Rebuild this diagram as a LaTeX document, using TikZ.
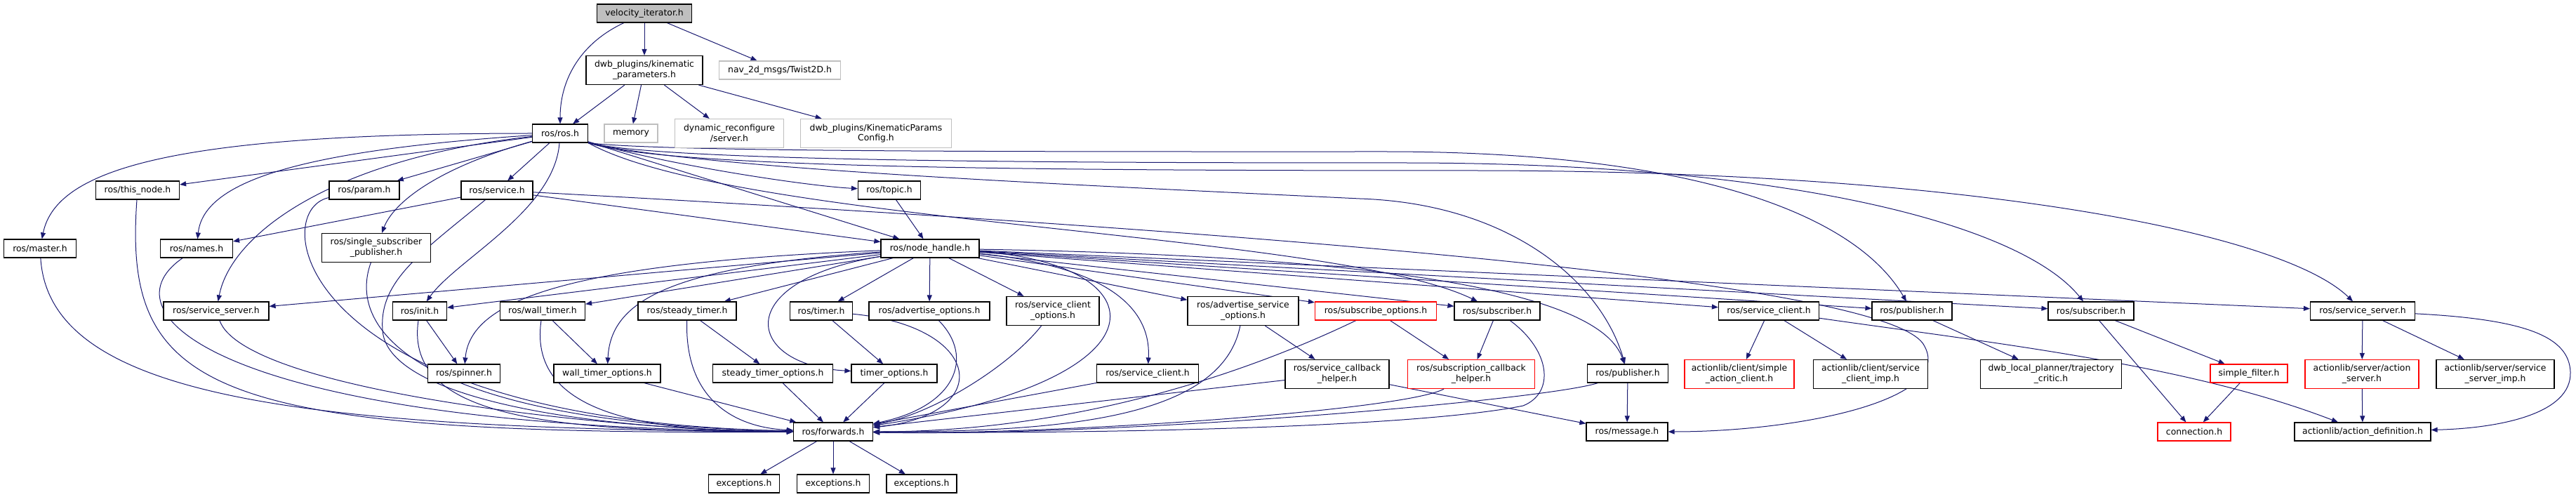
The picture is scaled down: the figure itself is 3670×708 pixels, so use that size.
\documentclass[tikz,border=0pt]{standalone}
\usepackage{fontspec}
\setmainfont{DejaVu Sans}
\usetikzlibrary{arrows.meta,backgrounds}
\definecolor{edgeblue}{HTML}{191970}
\definecolor{extgray}{HTML}{BFBFBF}
\begin{document}
\begin{tikzpicture}[x=1pt,y=1pt,
  hdr/.style={draw=black,line width=1.2pt,fill=white,inner sep=0pt,minimum height=26,align=center,font=\fontsize{12.4}{14.8}\selectfont},
  dbl/.style={minimum height=41},
  ext/.style={hdr,draw=extgray},
  cut/.style={hdr,draw=red},
  rootbox/.style={hdr,fill=extgray},
  inc/.style={draw=edgeblue,line width=1pt,-{Triangle[length=9pt,width=7pt]}}]
\useasboundingbox (0,0) rectangle (3670,-708);
\node[rootbox,minimum width=135] (vi) at (918,-19) {velocity\_iterator.h};
\node[hdr,dbl,minimum width=166] (kp) at (918,-100) {dwb\_plugins/kinematic\\\_parameters.h};
\node[ext,minimum width=173] (tw) at (1111,-100) {nav\_2d\_msgs/Twist2D.h};
\node[hdr,minimum width=79] (ros) at (798,-190) {ros/ros.h};
\node[ext,minimum width=76] (mem) at (899,-190) {memory};
\node[ext,dbl,minimum width=155] (dyn) at (1039,-190) {dynamic\_reconfigure\\/server.h};
\node[ext,dbl,minimum width=215] (kpc) at (1248,-190) {dwb\_plugins/KinematicParams\\Config.h};
\node[hdr,minimum width=119] (thisnode) at (196,-271) {ros/this\_node.h};
\node[hdr,minimum width=100] (param) at (519,-271) {ros/param.h};
\node[hdr,minimum width=102] (service) at (708,-271) {ros/service.h};
\node[hdr,minimum width=89] (topic) at (1267,-271) {ros/topic.h};
\node[hdr,minimum width=103] (master) at (57,-354) {ros/master.h};
\node[hdr,minimum width=103] (names) at (280,-354) {ros/names.h};
\node[hdr,dbl,minimum width=155] (ssp) at (536,-353) {ros/single\_subscriber\\\_publisher.h};
\node[hdr,minimum width=140] (nh) at (1325,-354) {ros/node\_handle.h};
\node[hdr,minimum width=150] (srvsrvL) at (308,-443) {ros/service\_server.h};
\node[hdr,minimum width=77] (init) at (598,-443) {ros/init.h};
\node[hdr,minimum width=121] (walltimer) at (773,-443) {ros/wall\_timer.h};
\node[hdr,minimum width=140] (steadytimer) at (979,-443) {ros/steady\_timer.h};
\node[hdr,minimum width=89] (timer) at (1170,-443) {ros/timer.h};
\node[hdr,minimum width=172] (advopt) at (1324,-443) {ros/advertise\_options.h};
\node[hdr,dbl,minimum width=132] (sco) at (1500,-443) {ros/service\_client\\\_options.h};
\node[hdr,dbl,minimum width=158] (aso) at (1771,-443) {ros/advertise\_service\\\_options.h};
\node[cut,minimum width=173] (subopt) at (1960,-443) {ros/subscribe\_options.h};
\node[hdr,minimum width=122] (subL) at (2133,-443) {ros/subscriber.h};
\node[hdr,minimum width=143] (scR) at (2520,-443) {ros/service\_client.h};
\node[hdr,minimum width=114] (pubR) at (2724,-443) {ros/publisher.h};
\node[hdr,minimum width=122] (subR) at (2979,-443) {ros/subscriber.h};
\node[hdr,minimum width=149] (ssR) at (3366,-443) {ros/service\_server.h};
\node[hdr,minimum width=103] (spinner) at (661,-532) {ros/spinner.h};
\node[hdr,minimum width=152] (wto) at (865,-532) {wall\_timer\_options.h};
\node[hdr,minimum width=171] (sto) at (1101,-532) {steady\_timer\_options.h};
\node[hdr,minimum width=122] (to) at (1274,-532) {timer\_options.h};
\node[hdr,minimum width=145] (scL) at (1635,-532) {ros/service\_client.h};
\node[hdr,dbl,minimum width=148] (sch) at (1905,-533) {ros/service\_callback\\\_helper.h};
\node[cut,dbl,minimum width=181] (subch) at (2096,-533) {ros/subscription\_callback\\\_helper.h};
\node[hdr,minimum width=115] (pubL) at (2319,-532) {ros/publisher.h};
\node[cut,dbl,minimum width=156] (sac) at (2478,-533) {actionlib/client/simple\\\_action\_client.h};
\node[hdr,dbl,minimum width=163] (scimp) at (2665,-533) {actionlib/client/service\\\_client\_imp.h};
\node[hdr,dbl,minimum width=201] (tc) at (2922,-533) {dwb\_local\_planner/trajectory\\\_critic.h};
\node[cut,minimum width=110] (sf) at (3204,-532) {simple\_filter.h};
\node[cut,dbl,minimum width=162] (as) at (3365,-533) {actionlib/server/action\\\_server.h};
\node[hdr,dbl,minimum width=168] (ssimp) at (3555,-533) {actionlib/server/service\\\_server\_imp.h};
\node[hdr,minimum width=113] (fw) at (1187,-615) {ros/forwards.h};
\node[hdr,minimum width=116] (msg) at (2318,-615) {ros/message.h};
\node[cut,minimum width=104] (conn) at (3126,-615) {connection.h};
\node[hdr,minimum width=194] (ad) at (3366,-615) {actionlib/action\_definition.h};
\node[hdr,minimum width=101] (ex1) at (1060,-689) {exceptions.h};
\node[hdr,minimum width=103] (ex2) at (1187,-689) {exceptions.h};
\node[hdr,minimum width=100] (ex3) at (1313,-689) {exceptions.h};
\begin{scope}[on background layer]
\path[inc] (vi) -- (kp);
\path[inc] (vi) -- (tw);
\path[inc] (vi) .. controls (830,-60) and (798,-110) .. (ros);
\path[inc] (kp) -- (ros);
\path[inc] (kp) -- (mem);
\path[inc] (kp) -- (dyn);
\path[inc] (kp) -- (kpc);
\path[inc] (ros) .. controls (250,-190) and (80,-240) .. (master);
\path[inc] (ros) -- (thisnode);
\path[inc] (ros) .. controls (420,-215) and (290,-260) .. (names);
\path[inc] (ros) .. controls (480,-225) and (330,-330) .. (srvsrvL);
\path[inc] (ros) -- (param);
\path[inc] (ros) -- (service);
\path[inc] (ros) .. controls (620,-240) and (560,-290) .. (ssp);
\path[inc] (ros) .. controls (790,-300) and (650,-370) .. (init);
\path[inc] (ros) .. controls (950,-235) and (1150,-265) .. (topic);
\path[inc] (ros) -- (nh);
\path[inc] (ros.south east) .. controls (1050,-320) and (1900,-330) .. (subL);
\path[inc] (ros.south east) .. controls (1000,-240) and (1500,-262) .. (1937,-283) .. controls (2150,-290) and (2280,-400) .. (pubL);
\path[inc] (ros.south east) .. controls (950,-217) and (1500,-216) .. (1973,-216) .. controls (2400,-216) and (2640,-300) .. (pubR);
\path[inc] (ros.south east) .. controls (950,-230) and (1500,-232) .. (2000,-232) .. controls (2550,-232) and (2880,-320) .. (subR);
\path[inc] (ros.south east) .. controls (950,-240) and (1500,-243) .. (2100,-243) .. controls (2800,-243) and (3250,-330) .. (ssR);
\path[inc] (service) -- (names);
\path[inc] (service) -- (nh);
\path[inc] (service) .. controls (600,-360) and (540,-400) .. (545,-470) .. controls (550,-560) and (800,-612) .. (fw);
\path[inc] (service) .. controls (1800,-330) and (2680,-400) .. (2740,-490) .. controls (2790,-570) and (2560,-615) .. (msg);
\path[inc] (topic) -- (nh);
\path[inc] (master) .. controls (70,-560) and (400,-612) .. (fw);
\path[inc] (thisnode) .. controls (175,-560) and (300,-620) .. (fw);
\path[inc] (names) .. controls (140,-450) and (330,-610) .. (fw);
\path[inc] (param) .. controls (380,-300) and (420,-600) .. (fw);
\path[inc] (ssp) .. controls (490,-480) and (620,-605) .. (fw);
\path[inc] (srvsrvL) .. controls (350,-560) and (900,-615) .. (fw);
\path[inc] (nh) -- (srvsrvL);
\path[inc] (nh) -- (init);
\path[inc] (nh) .. controls (800,-375) and (670,-430) .. (spinner);
\path[inc] (nh) -- (walltimer);
\path[inc] (nh) .. controls (950,-380) and (870,-430) .. (wto);
\path[inc] (nh) -- (steadytimer);
\path[inc] (nh) -- (timer);
\path[inc] (nh) .. controls (1040,-400) and (1060,-520) .. (to);
\path[inc] (nh) -- (advopt);
\path[inc] (nh) -- (sco);
\path[inc] (nh) -- (aso);
\path[inc] (nh) -- (subopt);
\path[inc] (nh) -- (subL);
\path[inc] (nh) .. controls (1580,-380) and (1640,-440) .. (scL);
\path[inc] (nh) .. controls (2000,-365) and (2280,-420) .. (pubL);
\path[inc] (nh) .. controls (1650,-375) and (1680,-540) .. (fw);
\path[inc] (nh) -- (scR);
\path[inc] (nh) -- (pubR);
\path[inc] (nh) -- (subR);
\path[inc] (nh) -- (ssR);
\path[inc] (init) -- (spinner);
\path[inc] (init) .. controls (575,-600) and (800,-615) .. (fw);
\path[inc] (walltimer) -- (wto);
\path[inc] (walltimer) .. controls (750,-600) and (950,-615) .. (fw);
\path[inc] (steadytimer) -- (sto);
\path[inc] (steadytimer) .. controls (975,-580) and (1060,-610) .. (fw);
\path[inc] (timer) -- (to);
\path[inc] (timer) .. controls (1400,-465) and (1420,-590) .. (fw);
\path[inc] (wto) -- (fw);
\path[inc] (sto) -- (fw);
\path[inc] (to) -- (fw);
\path[inc] (advopt) .. controls (1390,-510) and (1360,-580) .. (fw);
\path[inc] (sco) .. controls (1440,-520) and (1330,-590) .. (fw);
\path[inc] (aso) -- (sch);
\path[inc] (aso) .. controls (1740,-600) and (1500,-615) .. (fw);
\path[inc] (subopt) -- (subch);
\path[inc] (subopt) .. controls (1800,-520) and (1550,-615) .. (fw);
\path[inc] (subL) -- (subch);
\path[inc] (subL) .. controls (2210,-500) and (2215,-560) .. (2170,-578) .. controls (2000,-612) and (1500,-618) .. (fw);
\path[inc] (scL) -- (fw);
\path[inc] (sch) -- (fw);
\path[inc] (sch) -- (msg);
\path[inc] (subch) .. controls (2000,-585) and (1500,-620) .. (fw);
\path[inc] (pubL) -- (msg);
\path[inc] (pubL) .. controls (2200,-570) and (1600,-622) .. (fw);
\path[inc] (scR) -- (sac);
\path[inc] (scR) -- (scimp);
\path[inc] (scR) .. controls (2850,-490) and (3120,-520) .. (ad);
\path[inc] (pubR) -- (tc);
\path[inc] (subR) -- (sf);
\path[inc] (subR) -- (conn);
\path[inc] (ssR) -- (as);
\path[inc] (ssR) -- (ssimp);
\path[inc] (ssR) .. controls (3600,-455) and (3660,-480) .. (3662,-530) .. controls (3664,-590) and (3560,-610) .. (ad);
\path[inc] (sf) -- (conn);
\path[inc] (as) -- (ad);
\path[inc] (fw) -- (ex1);
\path[inc] (fw) -- (ex2);
\path[inc] (fw) -- (ex3);
\end{scope}
\end{tikzpicture}
\end{document}
